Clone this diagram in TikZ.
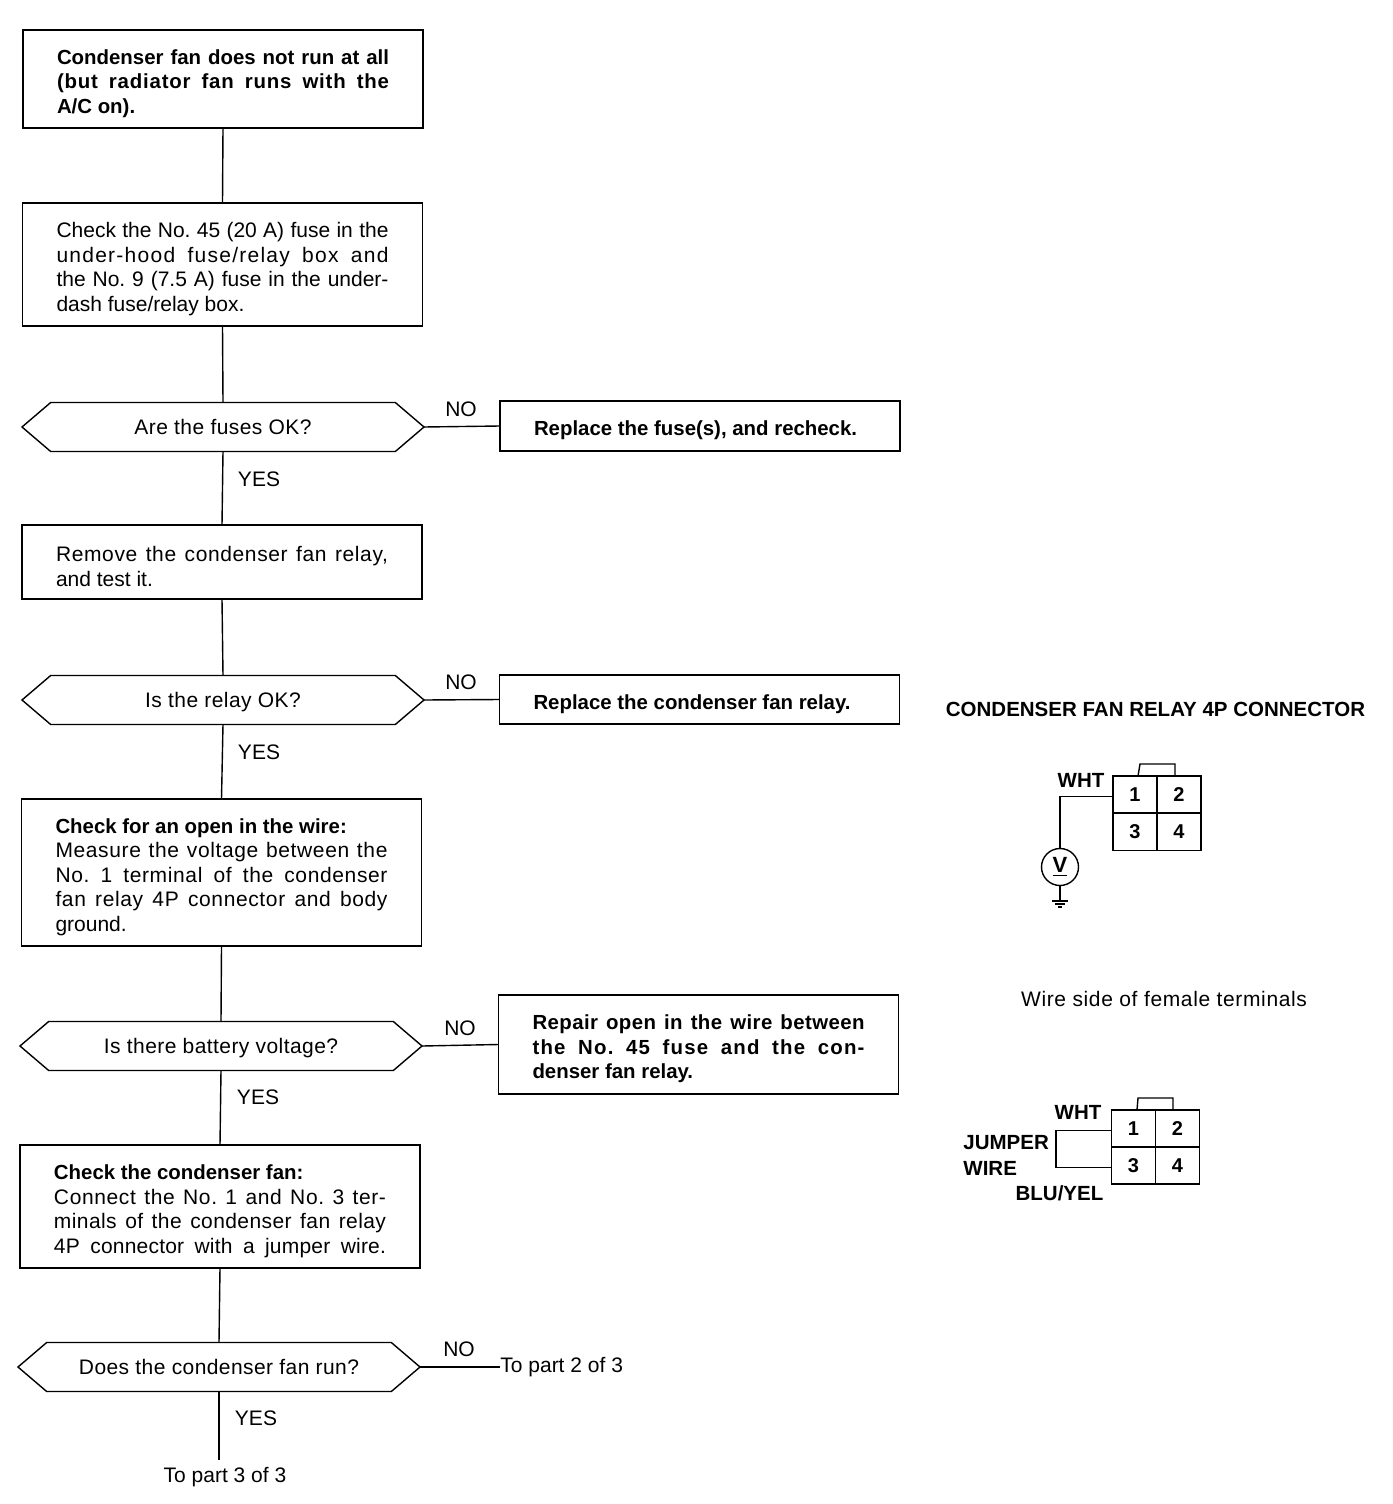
\documentclass[tikz,border=0pt]{standalone}
\usepackage{fontspec}
\setmainfont{Liberation Sans}
\usetikzlibrary{positioning, calc, shapes.symbols}
\newcommand{\jl}[2][0]{\makebox[166pt][s]{\addfontfeature{LetterSpace=#1}#2}}
\newcommand{\bd}{\fontsize{10.2}{12.3}\selectfont\bfseries}
\newcommand{\bodyfont}{\fontsize{10.5}{12.3}\selectfont\frenchspacing}
\tikzset{
	stepbox/.style={draw, line width=.7pt, rectangle, minimum width=200pt, text width=166pt, inner xsep=0pt, align=flush left, outer sep=0pt, font=\bodyfont, execute at begin node={\rule{0pt}{12pt}}},
	askbox/.style={draw, line width=.7pt, signal, signal to=west and east, signal pointer angle=81, minimum width=201pt, minimum height=24.5pt, inner sep=0pt, outer sep=0pt, text height=9.3pt, text depth=2pt, font=\bodyfont\addfontfeature{LetterSpace=2}},
	answer/.style={font=\bodyfont},
	pincell/.style={draw, line width=.7pt, rectangle, minimum width=22pt, minimum height=18.5pt, inner sep=0pt, outer sep=0pt, font=\fontsize{10}{11}\selectfont\bfseries},
	wirelabel/.style={font=\fontsize{10.25}{12}\selectfont\bfseries},
	wire/.style={line width=.7pt}
}
\begin{document}
\begin{tikzpicture}[x=.5pt,y=-.5pt]
	\useasboundingbox (0,0) rectangle (1392,1504);

	% left column
	\node [stepbox, minimum height=49pt] (box1) at (223,79) {\bd \jl{Condenser fan does not run at all}\\\jl[4]{(but radiator fan runs with the}\\A/C on).};
	\node [stepbox, minimum height=61.5pt] (box2) at (222.5,264.5) {\jl{Check the No. 45 (20 A) fuse in the}\\\jl[6]{under-hood fuse/relay box and}\\\jl{the No. 9 (7.5 A) fuse in the under-}\\dash fuse/relay box.};
	\node [askbox] (ask1) at (223,427) {Are the fuses OK?};
	\node [stepbox, minimum height=37pt] (box3) at (222,562) {\jl[3]{Remove the condenser fan relay,}\\and test it.};
	\node [askbox] (ask2) at (223,700) {Is the relay OK?};
	\node [stepbox, minimum height=73.5pt] (box4) at (221.5,872.5) {{\bd Check for an open in the wire:}\\\jl[3]{Measure the voltage between the}\\\jl[3]{No. 1 terminal of the condenser}\\\jl[3]{fan relay 4P connector and body}\\ground.};
	\node [askbox] (ask3) at (221,1046) {Is there battery voltage?};
	\node [stepbox, minimum height=61.5pt] (box5) at (220,1206.5) {{\bd Check the condenser fan:}\\\jl[3]{Connect the No. 1 and No. 3 ter-}\\\jl[2]{minals of the condenser fan relay}\\\jl[1]{4P connector with a jumper wire.}};
	\node [askbox] (ask4) at (219,1367) {Does the condenser fan run?};
	\node [answer] (part3) at (225,1477) {To part 3 of 3};

	% right column
	\node [stepbox, minimum height=25pt] (fix1) at (700,426) {\bd Replace the fuse(s), and recheck.};
	\node [stepbox, minimum height=24.5pt] (fix2) at (699.5,699.5) {\bd Replace the condenser fan relay.};
	\node [stepbox, minimum height=49.5pt] (fix3) at (698.5,1044.5) {\bd \jl[2]{Repair open in the wire between}\\\jl[6]{the No. 45 fuse and the con-}\\denser fan relay.};
	\node [answer, anchor=west, inner xsep=0pt] (part2) at (500,1367) {To part 2 of 3};

	\draw [wire] (box1.south) -- (box2.north);
	\draw [wire] (box2.south) -- (ask1.north);
	\draw [wire] (ask1.south) -- (box3.north);
	\draw [wire] (box3.south) -- (ask2.north);
	\draw [wire] (ask2.south) -- (box4.north);
	\draw [wire] (box4.south) -- (ask3.north);
	\draw [wire] (ask3.south) -- (box5.north);
	\draw [wire] (box5.south) -- (ask4.north);
	\draw [wire] (ask4.south) -- (part3.north -| ask4.south);
	\draw [wire] (ask1.east) -- (fix1.west);
	\draw [wire] (ask2.east) -- (fix2.west);
	\draw [wire] (ask3.east) -- (fix3.west);
	\draw [wire] (ask4.east) -- (part2.west);

	\node [answer] (no1) at (461,409) {NO};
	\node [answer] (no2) at (461,682) {NO};
	\node [answer] (no3) at (460,1028) {NO};
	\node [answer] (no4) at (459,1349) {NO};
	\node [answer] (yes1) at (259,479) {YES};
	\node [answer] (yes2) at (259,752) {YES};
	\node [answer] (yes3) at (258,1097) {YES};
	\node [answer] (yes4) at (256,1418) {YES};

	% connector, voltmeter
	\node [wirelabel] (title) at (1155.5,709) {CONDENSER FAN RELAY 4P CONNECTOR};
	\foreach \n/\cx/\cy in {1/1135/794.5, 2/1179/794.5, 3/1135/832, 4/1179/832}
		\node [pincell] (a\n) at (\cx,\cy) {\n};
	\draw [wire] (1138,776) -- (1140,764) -- (1175,764) -- (1175,776);
	\node [wirelabel] (wht1) at (1081,780) {WHT};
	\node [circle, draw, line width=.7pt, minimum size=18.5pt, inner sep=0pt, outer sep=0pt, font=\fontsize{11}{12}\selectfont\bfseries] (volt) at (1060,867) {\underline{V}};
	\coordinate (gnd) at (1060,901);
	\draw [wire] ([yshift=-1pt]a1.west) -| (volt.north);
	\draw [wire] (volt.south) -- (gnd);
	\draw [wire] ($(gnd)+(-8,0)$) -- ($(gnd)+(8,0)$);
	\draw [wire] ($(gnd)+(-5,3)$) -- ($(gnd)+(5,3)$);
	\draw [wire] ($(gnd)+(-2,6)$) -- ($(gnd)+(2,6)$);

	\node [answer, font=\bodyfont\addfontfeature{LetterSpace=3}] (side) at (1164,999) {Wire side of female terminals};

	% connector, jumper
	\foreach \n/\cx/\cy in {1/1133.5/1128.5, 2/1177.5/1128.5, 3/1133.5/1165.5, 4/1177.5/1165.5}
		\node [pincell] (b\n) at (\cx,\cy) {\n};
	\draw [wire] (1137,1110) -- (1138,1098) -- (1173,1098) -- (1173,1110);
	\coordinate (jump) at (1056,1150);
	\draw [wire] ([yshift=-1pt]b1.west) -| (jump) |- ([yshift=-1pt]b3.west);
	\node [wirelabel] (wht2) at (1078,1112) {WHT};
	\node [wirelabel, anchor=west, inner xsep=0pt] (jumper1) at (963,1143) {JUMPER};
	\node [wirelabel, anchor=west, inner xsep=0pt] (jumper2) at (963,1168) {WIRE};
	\node [wirelabel] (blu) at (1059.5,1193) {BLU/YEL};
\end{tikzpicture}
\end{document}
